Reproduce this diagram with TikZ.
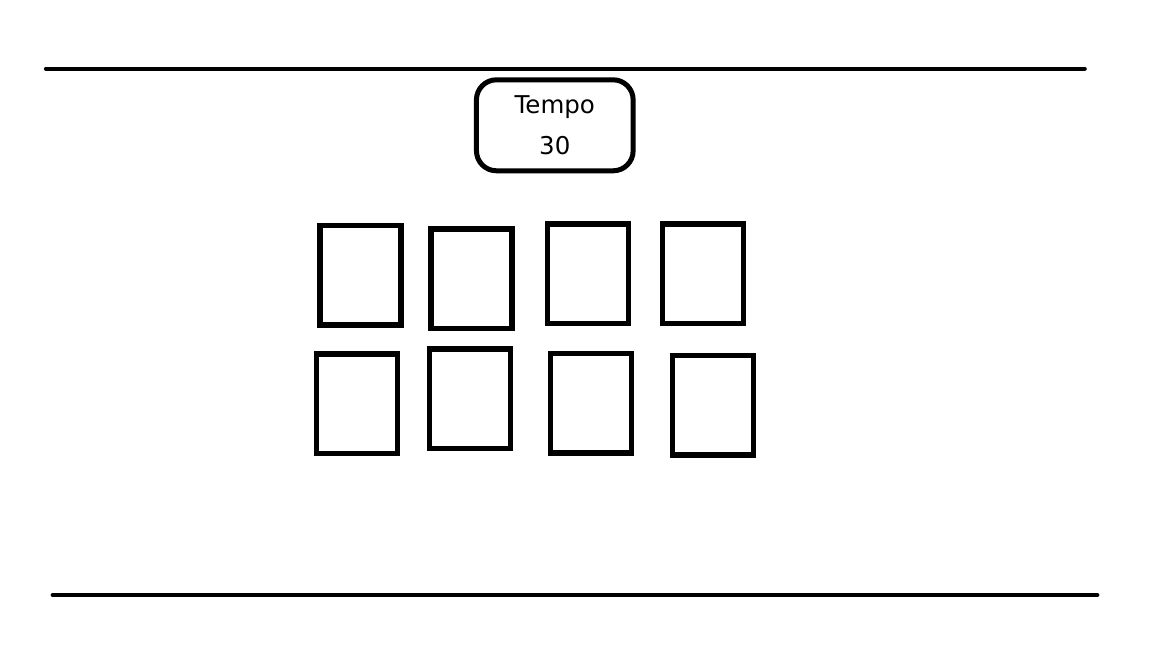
\documentclass[tikz,border=0pt]{standalone}
\usepackage{fontspec}
\setmainfont{DejaVu Sans}
\begin{document}
\begin{tikzpicture}[x=1pt,y=-1pt,
  card/.style={draw=black,line width=5.5pt,minimum width=81pt,minimum height=99.5pt,inner sep=0pt,outer sep=0pt},
  rule/.style={draw=black,line width=4.2pt,line cap=round},
  timer/.style={draw=black,line width=5pt,rounded corners=20pt,minimum width=156.7pt,minimum height=91pt,inner sep=0pt,outer sep=0pt,align=center,font=\fontsize{24.5}{41}\selectfont}]
\useasboundingbox (0,0) rectangle (1152,648);
\coordinate (t1) at (46,68.7);
\coordinate (t2) at (1084.7,68.7);
\coordinate (b1) at (52.7,595);
\coordinate (b2) at (1097.3,595);
\draw[rule] (t1) -- (t2);
\draw[rule] (b1) -- (b2);
\node[timer,text depth=-3pt] (tempo) at (554.8,125.3) {Tempo\\30};
\node[card] (c1) at (360.5,275) {};
\node[card] (c2) at (471.6,278.7) {};
\node[card] (c3) at (588,273.8) {};
\node[card] (c4) at (702.8,273.8) {};
\node[card] (c5) at (357,403.8) {};
\node[card] (c6) at (469.8,398.8) {};
\node[card] (c7) at (590.8,403.1) {};
\node[card] (c8) at (713,405) {};
\end{tikzpicture}
\end{document}
